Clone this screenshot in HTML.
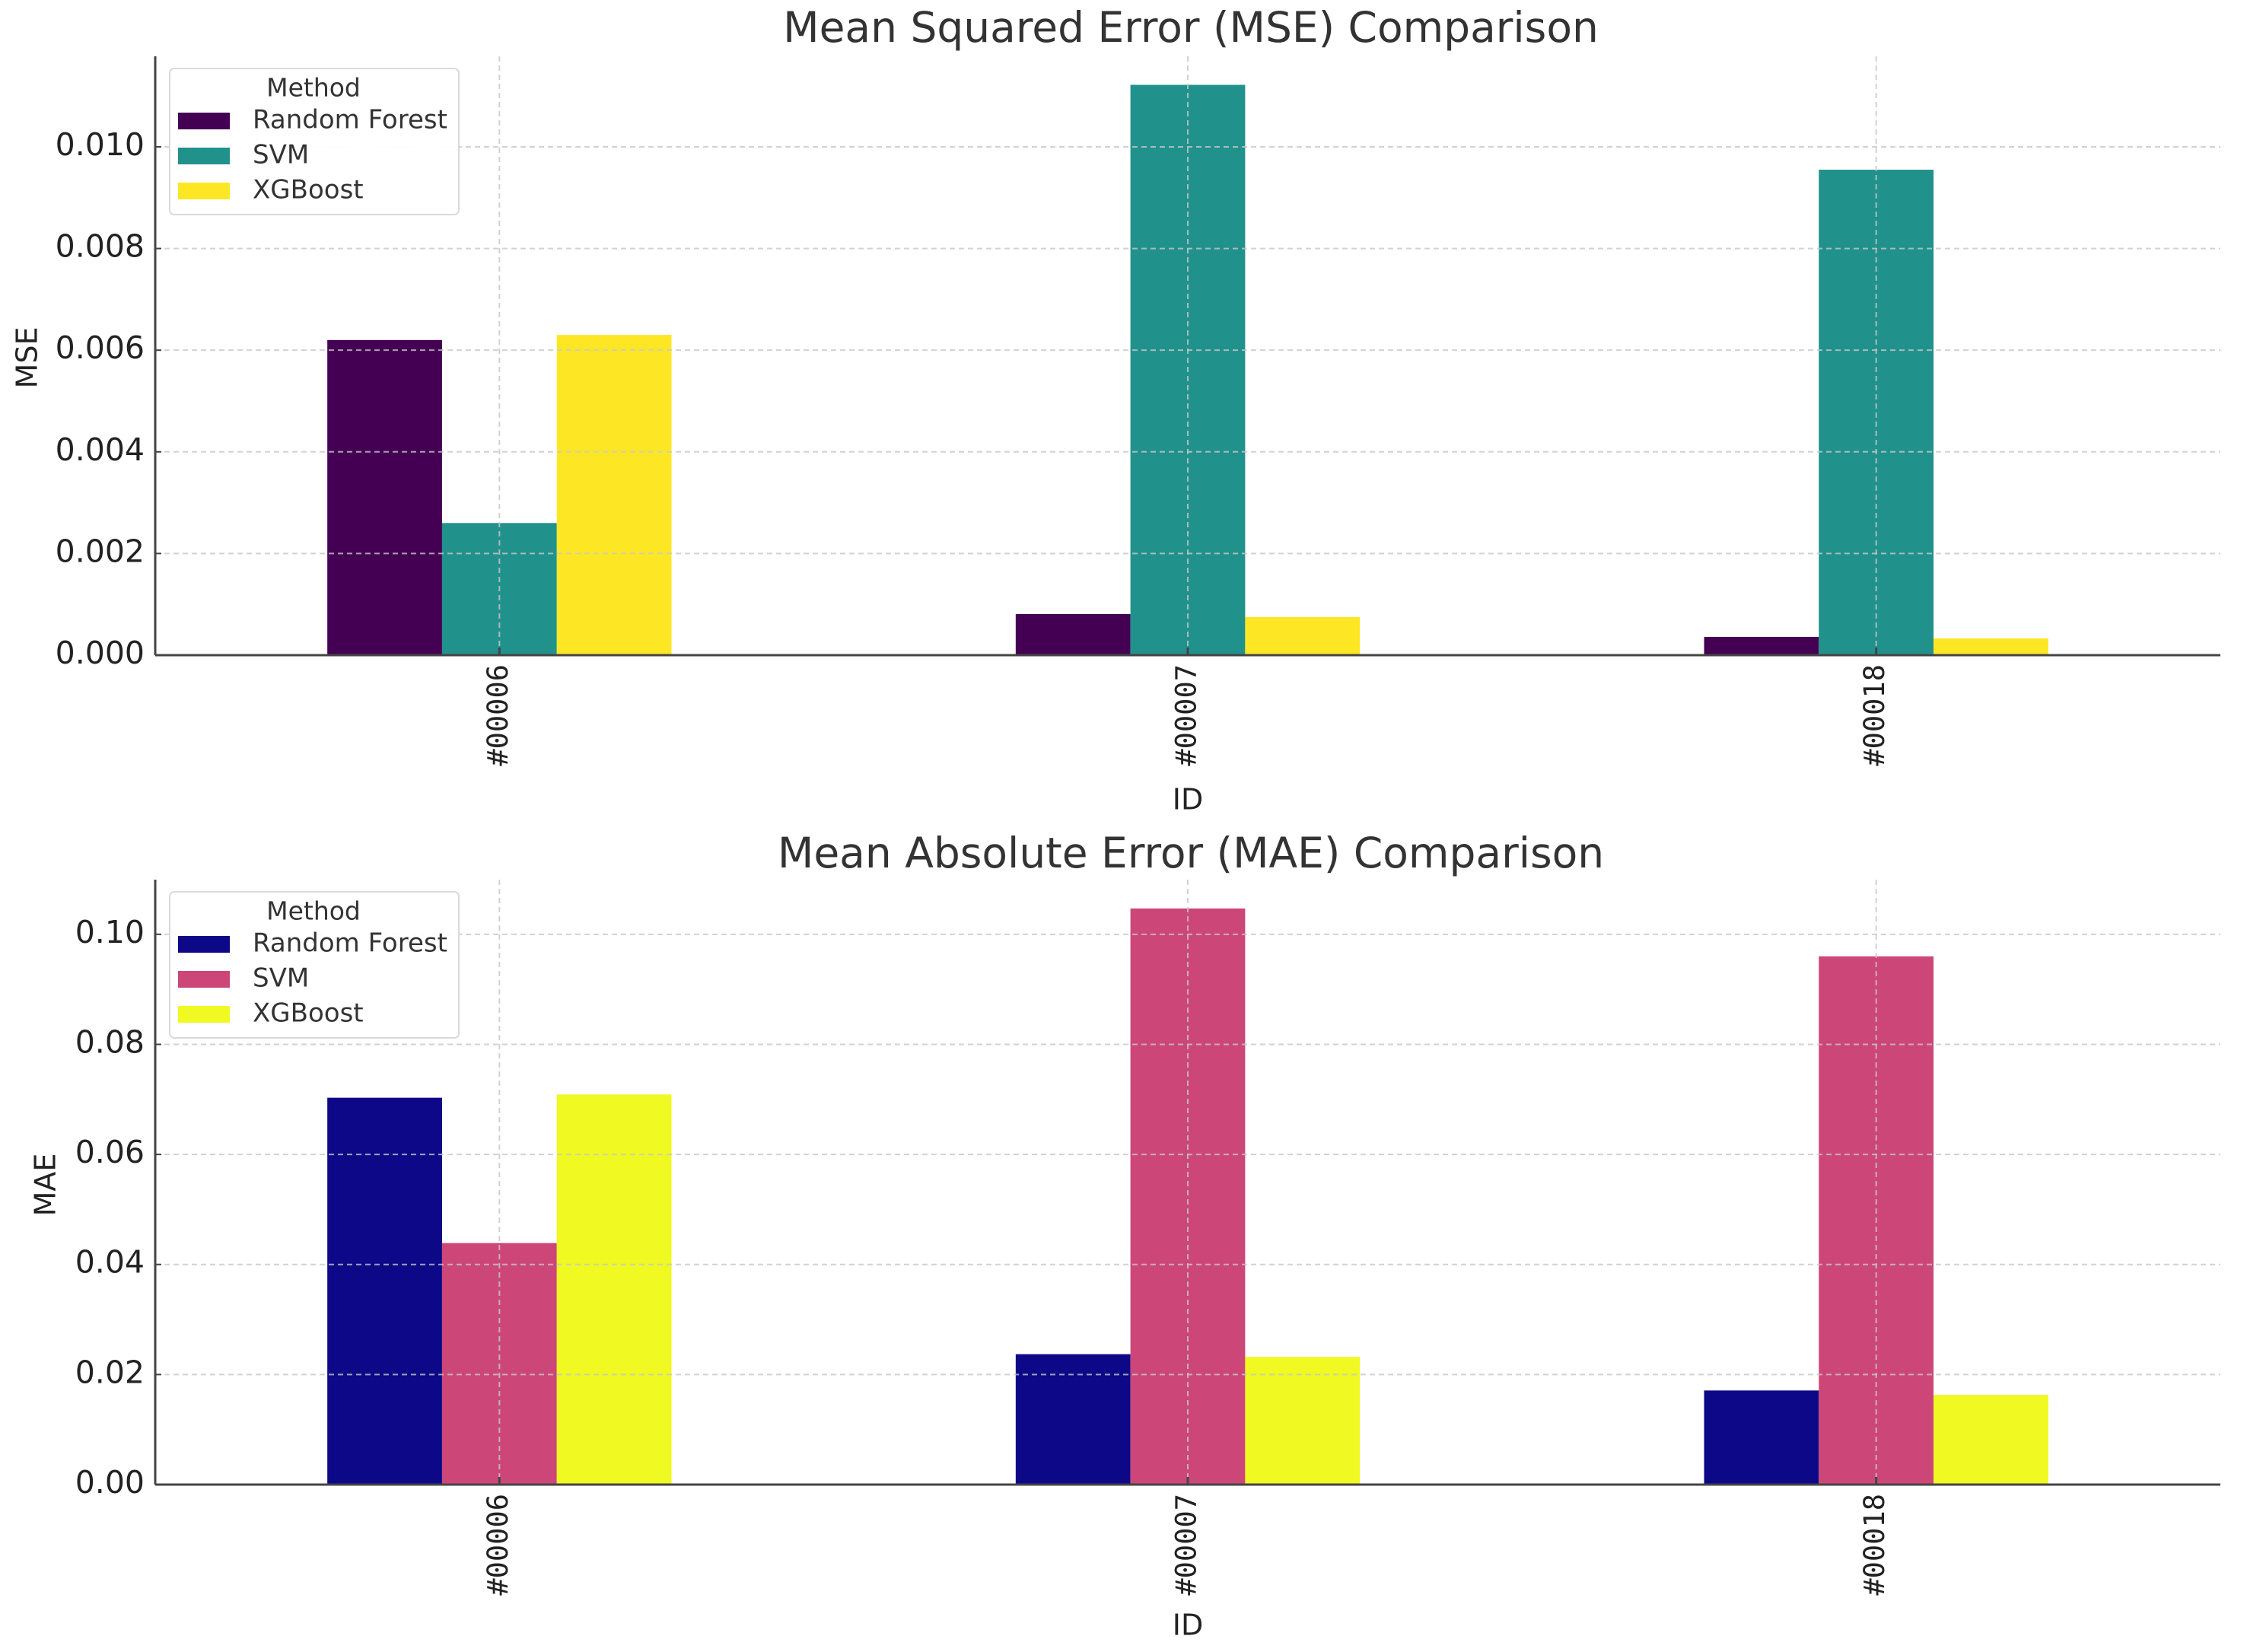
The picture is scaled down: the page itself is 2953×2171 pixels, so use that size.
<!DOCTYPE html>
<html><head><meta charset="utf-8"><style>
html,body{margin:0;padding:0;background:#fff;}
svg{display:block;font-family:"DejaVu Sans","Liberation Sans",sans-serif;}
</style></head><body>
<svg id="chart" width="2953" height="2171" viewBox="0 0 2953 2171" xmlns="http://www.w3.org/2000/svg">
<rect width="2953" height="2171" fill="#fff"/>
</svg>
<script>
const categories = ["#00006", "#00007", "#00018"];
const methods = ["Random Forest", "SVM", "XGBoost"];
const mseRF = [0.0062, 0.00081, 0.00036];
const mseSVM = [0.0026, 0.01122, 0.00955];
const mseXGB = [0.0063, 0.00075, 0.00033];
const maeRF = [0.0703, 0.0237, 0.0171];
const maeSVM = [0.0439, 0.1047, 0.0960];
const maeXGB = [0.0709, 0.0232, 0.0163];
const mseTicks = ["0.000", "0.002", "0.004", "0.006", "0.008", "0.010"];
const maeTicks = ["0.00", "0.02", "0.04", "0.06", "0.08", "0.10"];

const NS = "http://www.w3.org/2000/svg";
const svg = document.getElementById("chart");
function mk(tag, attrs, parent, text) {
  const e = document.createElementNS(NS, tag);
  for (const k in attrs) e.setAttribute(k, attrs[k]);
  if (text !== undefined) e.textContent = text;
  (parent || svg).appendChild(e);
  return e;
}

function panel(cfg) {
  const g = mk("g", {});
  
  
  const L = 204, R = 2918, T = cfg.top, B = cfg.base;
  const series = cfg.series;
  let maxV = 0;
  series.forEach(s => s.forEach(v => { if (v > maxV) maxV = v; }));
  const ymax = maxV * 1.05;
  const y = v => B - (v / ymax) * (B - T);
  const step = (R - L) / categories.length;
  const xc = i => L + step * (i + 0.5);
  const bw = step * 0.5 / series.length;

  const t = mk("text", {x: 1565, y: cfg.titleY, "text-anchor": "middle", "font-size": 55, fill: "#333", "dominant-baseline": "middle"}, g, cfg.title);
  
  

  series.forEach((s, si) => {
    s.forEach((v, ci) => {
      const x0 = xc(ci) - bw * series.length / 2 + si * bw;
      const r = mk("rect", {x: x0, y: y(v), width: bw, height: B - y(v), fill: cfg.colors[si]}, g);
      
      
    });
  });

  cfg.ticks.forEach(lbl => {
    const v = parseFloat(lbl);
    const gy = y(v);
    if (v > 0) {
      const gl = mk("line", {x1: L, x2: R, y1: gy, y2: gy, stroke: "#c8c8c8", "stroke-width": 2, "stroke-dasharray": "7,5", opacity: 0.8}, g);
      
      
    }
    const tk = mk("line", {x1: L, x2: L + 8, y1: gy, y2: gy, stroke: "#444", "stroke-width": 2}, g);
    
    
    const tl = mk("text", {x: L - 14, y: gy, "text-anchor": "end", "dominant-baseline": "middle", "font-size": 41, fill: "#222"}, g, lbl);
    
    
  });
  categories.forEach((c, ci) => {
    const vl = mk("line", {x1: xc(ci), x2: xc(ci), y1: T, y2: B, stroke: "#c8c8c8", "stroke-width": 2, "stroke-dasharray": "7,5", opacity: 0.8}, g);
    
    
    const tk = mk("line", {x1: xc(ci), x2: xc(ci), y1: B, y2: B - 10, stroke: "#444", "stroke-width": 3}, g);
    
    
    const xt = mk("text", {x: 0, y: 0, "text-anchor": "end", "dominant-baseline": "middle", "font-size": 37, fill: "#222", "font-family": "DejaVu Sans Mono, Liberation Mono, monospace", transform: `translate(${xc(ci)},${B + 12}) rotate(-90)`}, g, c);
    
    
  });

  const ya = mk("line", {x1: L, x2: L, y1: T, y2: B, stroke: "#444", "stroke-width": 3}, g);
  
  
  const xa = mk("line", {x1: L, x2: R, y1: B, y2: B, stroke: "#444", "stroke-width": 3}, g);
  
  

  const yl = mk("text", {x: 0, y: 0, "text-anchor": "middle", "dominant-baseline": "middle", "font-size": 38, fill: "#222", transform: `translate(${cfg.ylabelX},${cfg.ylabelY}) rotate(-90)`}, g, cfg.ylabel);
  
  
  const xl = mk("text", {x: xc(1), y: cfg.idY, "text-anchor": "middle", "dominant-baseline": "middle", "font-size": 38, fill: "#222"}, g, "ID");
  
  

  const lg = mk("g", {}, g);
  
  
  const ly = T + 16;
  mk("rect", {x: 223, y: ly, width: 380, height: 192, rx: 6, fill: "#fff", stroke: "#d9d9d9", "stroke-width": 2, opacity: 0.95}, lg);
  mk("text", {x: 412, y: ly + 27, "text-anchor": "middle", "dominant-baseline": "middle", "font-size": 33, fill: "#333"}, lg, "Method");
  methods.forEach((m, i) => {
    const ey = ly + 69 + i * 46;
    const e = mk("g", {}, lg);
    
    
    mk("rect", {x: 234, y: ey - 11, width: 68, height: 22, fill: cfg.colors[i]}, e);
    mk("text", {x: 332, y: ey, "dominant-baseline": "middle", "font-size": 34, fill: "#333"}, e, m);
  });
}

panel({name: "mse-chart", title: "Mean Squared Error (MSE) Comparison", titleY: 40, top: 74, base: 861,
  series: [mseRF, mseSVM, mseXGB], colors: ["#440154", "#21918c", "#fde725"], ticks: mseTicks,
  ylabel: "MSE", ylabelX: 38, ylabelY: 470, idY: 1053});
panel({name: "mae-chart", title: "Mean Absolute Error (MAE) Comparison", titleY: 1125, top: 1156, base: 1951,
  series: [maeRF, maeSVM, maeXGB], colors: ["#0d0887", "#cc4778", "#f0f921"], ticks: maeTicks,
  ylabel: "MAE", ylabelX: 62, ylabelY: 1557, idY: 2138});
</script>
</body></html>
